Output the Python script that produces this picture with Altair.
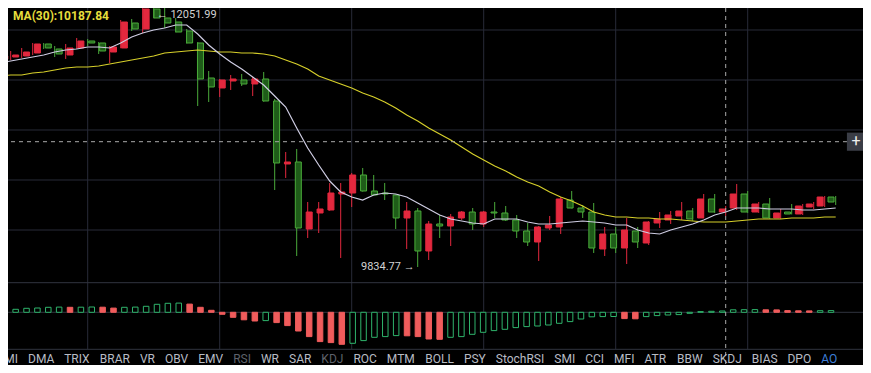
import altair as alt
import pandas as pd

# ---------------- data ----------------
idx = list(range(77))
opens = [11608.6, 11625.6, 11634.1, 11659.7, 11736.5, 11693.9, 11642.7, 11702.4, 11762.1, 11745.0,
         11668.2, 11702.4, 11915.5, 11864.4, 12035.0, 11958.2, 11924.0, 11847.4, 11745.0, 11446.6,
         11361.3, 11421.0, 11429.5, 11395.4, 11438.1, 11250.4, 10713.2, 10730.2, 10158.9, 10295.3,
         10320.9, 10457.3, 10465.8, 10619.4, 10482.9, 10465.8, 10448.8, 10252.7, 10312.4, 9971.3,
         10201.5, 10184.4, 10252.7, 10303.8, 10201.5, 10303.8, 10295.3, 10235.6, 10141.8, 10047.9,
         10167.4, 10175.9, 10406.1, 10337.9, 10303.8, 9988.3, 10116.2, 9996.8, 10141.8, 10039.4,
         10210.0, 10235.6, 10269.7, 10312.4, 10252.7, 10414.7, 10303.8, 10337.9, 10457.3, 10303.8,
         10372.0, 10252.7, 10303.8, 10286.8, 10346.4, 10354.9, 10431.7]
highs = [11651.2, 11676.8, 11702.4, 11745.0, 11745.0, 11719.4, 11736.5, 11787.7, 11779.2, 11753.5,
         11719.4, 11941.1, 11949.7, 12043.5, 12051.99, 12043.5, 11958.2, 11864.4, 11753.5, 11506.3,
         11438.1, 11472.2, 11480.7, 11455.1, 11497.7, 11267.5, 10815.4, 10841.1, 10389.0, 10389.0,
         10551.1, 10551.1, 10636.4, 10679.1, 10619.4, 10551.1, 10452.0, 10389.0, 10337.9, 10227.1,
         10278.3, 10286.8, 10312.4, 10337.9, 10312.4, 10389.0, 10354.9, 10278.3, 10210.0, 10184.4,
         10269.7, 10431.7, 10482.9, 10363.5, 10380.5, 10175.9, 10175.9, 10252.7, 10175.9, 10227.1,
         10303.8, 10312.4, 10389.0, 10337.9, 10457.3, 10457.3, 10354.9, 10542.6, 10482.9, 10389.0,
         10423.2, 10329.4, 10372.0, 10372.0, 10389.0, 10440.2, 10440.2]
lows = [11591.5, 11600.0, 11617.1, 11642.7, 11693.9, 11625.6, 11608.6, 11693.9, 11719.4, 11651.2,
        11574.4, 11700.0, 11847.4, 11830.3, 11955.0, 11872.9, 11835.0, 11740.0, 11207.7, 11241.8,
        11284.5, 11344.2, 11378.3, 11293.0, 11245.0, 10491.4, 10593.8, 9928.6, 10082.1, 10124.7,
        10315.0, 9911.6, 10346.4, 10478.0, 10445.0, 10406.1, 10158.9, 9988.3, 9834.77, 9894.5,
        10082.1, 10013.8, 10235.6, 10150.3, 10175.9, 10252.7, 10227.1, 10082.1, 10013.8, 9886.0,
        10150.3, 10116.2, 10335.0, 10252.7, 9954.2, 9928.6, 9954.2, 9860.4, 9996.8, 10022.4,
        10167.4, 10201.5, 10235.6, 10227.1, 10250.0, 10295.3, 10269.7, 10320.9, 10295.3, 10295.3,
        10244.2, 10244.2, 10283.0, 10278.3, 10329.4, 10346.4, 10363.5]
closes = [11634.1, 11642.7, 11668.2, 11736.5, 11702.4, 11651.2, 11702.4, 11762.1, 11745.0, 11676.8,
          11710.9, 11924.0, 11864.4, 12035.0, 11958.2, 11915.5, 11838.8, 11745.0, 11438.1, 11369.8,
          11429.5, 11438.1, 11395.4, 11438.1, 11250.4, 10721.7, 10730.2, 10167.4, 10303.8, 10329.4,
          10465.8, 10474.3, 10619.4, 10482.9, 10448.8, 10457.3, 10252.7, 10312.4, 9971.3, 10201.5,
          10184.4, 10261.2, 10303.8, 10201.5, 10303.8, 10295.3, 10235.6, 10141.8, 10047.9, 10175.9,
          10193.0, 10414.7, 10337.9, 10303.8, 9996.8, 10116.2, 9996.8, 10150.3, 10047.9, 10218.5,
          10244.2, 10278.3, 10312.4, 10244.2, 10414.7, 10303.8, 10329.4, 10457.3, 10303.8, 10372.0,
          10252.7, 10295.3, 10286.8, 10354.9, 10372.0, 10431.7, 10389.0]
ma_fast = [11574.4, 11591.5, 11608.6, 11625.6, 11642.7, 11668.2, 11685.3, 11693.9, 11710.9, 11710.9,
           11702.4, 11745.0, 11796.2, 11830.3, 11855.9, 11872.9, 11898.5, 11898.5, 11821.8, 11728.0,
           11651.2, 11582.9, 11523.3, 11455.1, 11386.9, 11293.0, 11199.2, 11020.2, 10849.6, 10704.7,
           10568.2, 10474.3, 10431.7, 10406.1, 10448.8, 10465.8, 10457.3, 10431.7, 10380.5, 10329.4,
           10278.3, 10244.2, 10227.1, 10210.0, 10201.5, 10244.2, 10244.2, 10244.2, 10218.5, 10201.5,
           10201.5, 10210.0, 10218.5, 10227.1, 10218.5, 10210.0, 10193.0, 10193.0, 10150.3, 10124.7,
           10116.2, 10150.3, 10175.9, 10201.5, 10235.6, 10278.3, 10303.8, 10337.9, 10337.9, 10337.9,
           10329.4, 10329.4, 10329.4, 10320.9, 10320.9, 10329.4, 10337.9]
ma30 = [11463.6, 11472.2, 11472.2, 11489.2, 11497.7, 11514.8, 11531.8, 11540.3, 11540.3, 11548.8,
        11565.9, 11582.9, 11600.0, 11617.1, 11634.1, 11659.7, 11668.2, 11676.8, 11685.3, 11676.8,
        11668.2, 11668.2, 11659.7, 11659.7, 11651.2, 11634.1, 11600.0, 11565.9, 11523.3, 11463.6,
        11429.5, 11395.4, 11361.3, 11318.6, 11284.5, 11241.8, 11190.7, 11131.0, 11079.9, 11020.2,
        10969.0, 10917.8, 10858.1, 10798.4, 10747.3, 10696.1, 10653.5, 10602.3, 10559.6, 10525.5,
        10474.3, 10431.7, 10397.6, 10354.9, 10303.8, 10278.3, 10261.2, 10261.2, 10252.7, 10252.7,
        10244.2, 10244.2, 10235.6, 10227.1, 10218.5, 10218.5, 10218.5, 10227.1, 10235.6, 10244.2,
        10244.2, 10244.2, 10252.7, 10252.7, 10252.7, 10261.2, 10261.2]
ao = [2.5, 3.0, 4.0, 4.3, 5.0, 5.2, 5.0, 5.1, 5.3, 5.1,
      4.2, 5.0, 5.2, 6.0, 8.0, 9.0, 9.2, 8.2, 5.0, 2.0,
      -2.0, -5.0, -7.5, -8.7, -8.3, -10.3, -13.3, -18.7, -24.3, -29.3,
      -30.3, -32.0, -31.0, -28.3, -25.0, -24.3, -23.3, -23.5, -24.3, -26.7,
      -27.0, -25.0, -24.3, -22.0, -20.0, -18.3, -17.0, -15.3, -14.3, -13.7,
      -12.7, -11.0, -9.3, -6.7, -4.5, -4.3, -4.2, -6.3, -6.5, -4.3,
      -3.3, -2.7, -2.3, -1.0, 0.7, 1.0, 1.3, 2.5, 2.6, 2.7,
      2.5, 2.4, 1.7, 1.5, 1.4, 1.6, 1.7]
ao_dir = list("gggggg" "r" "gg" "rr" "gggggg" "rrrrrrr" "g" "rrrrrrr" "ggggg" "rrrr"
              + "g" * 16 + "rr" + "g" * 11 + "rrrrr" + "gg")
grid_idx = [8, 20, 32, 44, 56, 68]
grid_prices = [11855.9, 11429.5, 11003.1, 10576.7, 10150.3]
cross_idx = 66
cross_price = 10903.3
ma30_label = "MA(30):10187.84"
tabs = ["DMI", "DMA", "TRIX", "BRAR", "VR", "OBV", "EMV", "RSI", "WR", "SAR", "KDJ", "ROC",
        "MTM", "BOLL", "PSY", "StochRSI", "SMI", "CCI", "MFI", "ATR", "BBW", "SKDJ", "BIAS",
        "DPO", "AO"]
dim_tabs = ["RSI", "KDJ"]
active_tab = "AO"

# ---------------- styling / layout ----------------
W, H = 855, 357
BG = "#000000"
GRID = "#282b38"
SEP = "#30343f"
RED = "#e3283e"
GREEN_LINE = "#4aab3a"
GREEN_FILL = "#1f5c19"
HIST_RED = "#f05c5c"
HIST_GREEN = "#2fb46c"
MA_FAST_C = "#cfcde3"
MA30_C = "#d6cf2a"
CROSS = "#a9a9a9"
LABEL = "#d2d2d2"
FONT = "Roboto"

X_DOM = [0.7545, 78.4818]
PRICE_DOM = [8999.05, 12043.47]
AO_DOM = [-52.7, 304.3]
AO_TOP, AO_BOTTOM = 29.6, -37.0

xs = alt.Scale(domain=X_DOM, nice=False, zero=False)
ps = alt.Scale(domain=PRICE_DOM, nice=False, zero=False)
aos = alt.Scale(domain=AO_DOM, nice=False, zero=False)

df = pd.DataFrame({"i": idx, "open": opens, "high": highs, "low": lows, "close": closes,
                   "ma_fast": ma_fast, "ma30": ma30, "ao": ao, "aod": ao_dir})
df["dir"] = ["up" if c >= o else "down" for o, c in zip(opens, closes)]
df["zero"] = 0.0

X = alt.X("i:Q", scale=xs, axis=None)

def PY(field):
    return alt.Y(field, scale=ps, axis=None)

hgrid = alt.Chart(pd.DataFrame({"p": grid_prices})).mark_rule(color=GRID, strokeWidth=1).encode(
    y=PY("p:Q"))
vgrid = alt.Chart(pd.DataFrame({"i": grid_idx})).mark_rule(color=GRID, strokeWidth=1).encode(
    x=X, y=alt.value(0), y2=alt.value(341))
seps = alt.Chart(pd.DataFrame({"v": [AO_TOP, 0.0, AO_BOTTOM]})).mark_rule(color=SEP, strokeWidth=1).encode(
    y=alt.Y("v:Q", scale=aos, axis=None))

base = alt.Chart(df)
wick = base.mark_rule(strokeWidth=1).encode(
    x=X, y=PY("low:Q"), y2="high:Q",
    color=alt.Color("dir:N", scale=alt.Scale(domain=["up", "down"], range=[RED, GREEN_LINE]), legend=None))
body = base.mark_bar(size=6, strokeWidth=1).encode(
    x=X, y=PY("open:Q"), y2="close:Q",
    fill=alt.Fill("dir:N", scale=alt.Scale(domain=["up", "down"], range=[RED, GREEN_FILL]), legend=None),
    stroke=alt.Stroke("dir:N", scale=alt.Scale(domain=["up", "down"], range=[RED, GREEN_LINE]), legend=None))
ma30_line = base.mark_line(color=MA30_C, strokeWidth=1.2).encode(x=X, y=PY("ma30:Q"))
fast_line = base.mark_line(color=MA_FAST_C, strokeWidth=1.2).encode(x=X, y=PY("ma_fast:Q"))

hist = base.mark_bar(size=5.5, strokeWidth=1).encode(
    x=X, y=alt.Y("ao:Q", scale=aos, axis=None), y2="zero:Q",
    fill=alt.Fill("aod:N", scale=alt.Scale(domain=["r", "g"], range=[HIST_RED, BG]), legend=None),
    stroke=alt.Stroke("aod:N", scale=alt.Scale(domain=["r", "g"], range=[HIST_RED, HIST_GREEN]), legend=None))

cross_v = alt.Chart(pd.DataFrame({"i": [cross_idx]})).mark_rule(
    color=CROSS, strokeWidth=1, strokeDash=[4, 4]).encode(x=X)
cross_h = alt.Chart(pd.DataFrame({"p": [cross_price]})).mark_rule(
    color=CROSS, strokeWidth=1, strokeDash=[4, 4]).encode(y=PY("p:Q"))
btn = alt.Chart(pd.DataFrame({"p": [cross_price]})).mark_square(
    size=330, color="#3a3d46", filled=True, opacity=1).encode(x=alt.value(848), y=PY("p:Q"))
btn_plus = alt.Chart(pd.DataFrame({"p": [cross_price], "t": ["+"]})).mark_text(
    color="#eeeeee", fontSize=16, font=FONT, baseline="middle", align="center", dy=-1).encode(
    x=alt.value(848), y=PY("p:Q"), text="t:N")

i_hi = highs.index(max(highs))
i_lo = lows.index(min(lows))
hi_df = pd.DataFrame({"i": [i_hi], "p": [highs[i_hi]], "t": ["\u2190 %.2f" % highs[i_hi]]})
lo_df = pd.DataFrame({"i": [i_lo], "p": [lows[i_lo]], "t": ["%.2f \u2192" % lows[i_lo]]})
hi_txt = alt.Chart(hi_df).mark_text(align="left", baseline="middle", dx=3, dy=8, fontSize=11,
                                    font=FONT, color=LABEL).encode(x=X, y=PY("p:Q"), text="t:N")
lo_txt = alt.Chart(lo_df).mark_text(align="right", baseline="middle", dx=-3, fontSize=11,
                                    font=FONT, color=LABEL).encode(x=X, y=PY("p:Q"), text="t:N")
ma_txt = alt.Chart(pd.DataFrame({"t": [ma30_label]})).mark_text(
    align="left", baseline="middle", fontSize=12, fontWeight="bold", font=FONT, color="#e6dd3c").encode(
    x=alt.value(5), y=alt.value(7.5), text="t:N")

# tab labels laid out from Roboto advance widths
ROBOTO_EM = {"A": .652, "B": .622, "C": .652, "D": .656, "E": .568, "F": .553, "I": .272, "J": .552,
             "K": .627, "L": .539, "M": .873, "O": .688, "P": .631, "R": .617, "S": .593, "T": .617,
             "V": .636, "W": .887, "X": .627, "Y": .601, "c": .524, "h": .551, "o": .570, "t": .326}
TAB_FS, TAB_GAP, TAB_START = 12, 10.0, -11.6
tab_x, pos = [], TAB_START
for t in tabs:
    tab_x.append(pos)
    pos += sum(ROBOTO_EM.get(ch, .6) for ch in t) * TAB_FS + TAB_GAP
tab_state = ["active" if t == active_tab else ("dim" if t in dim_tabs else "normal") for t in tabs]
tab_df = pd.DataFrame({"t": tabs, "x": tab_x, "s": tab_state})
tab_txt = alt.Chart(tab_df).mark_text(align="left", baseline="middle", fontSize=TAB_FS, font=FONT).encode(
    x=alt.X("x:Q", scale=alt.Scale(domain=[0, W], nice=False, zero=False), axis=None),
    y=alt.value(351),
    text="t:N",
    color=alt.Color("s:N", scale=alt.Scale(domain=["normal", "dim", "active"],
                                           range=["#b8bcc4", "#5e626b", "#3d7fd8"]), legend=None))

chart = alt.layer(
    hgrid, vgrid, seps,
    wick, body, ma30_line, fast_line, hist,
    cross_v, cross_h, btn, btn_plus, hi_txt, lo_txt, ma_txt, tab_txt
).resolve_scale(
    x="independent", y="independent", color="independent", fill="independent", stroke="independent"
).properties(
    width=W, height=H, padding=0, background=BG,
    autosize=alt.AutoSizeParams(type="none")
).configure_view(stroke="transparent")

chart.save("out.html", embed_options={"renderer": "svg", "actions": False})
